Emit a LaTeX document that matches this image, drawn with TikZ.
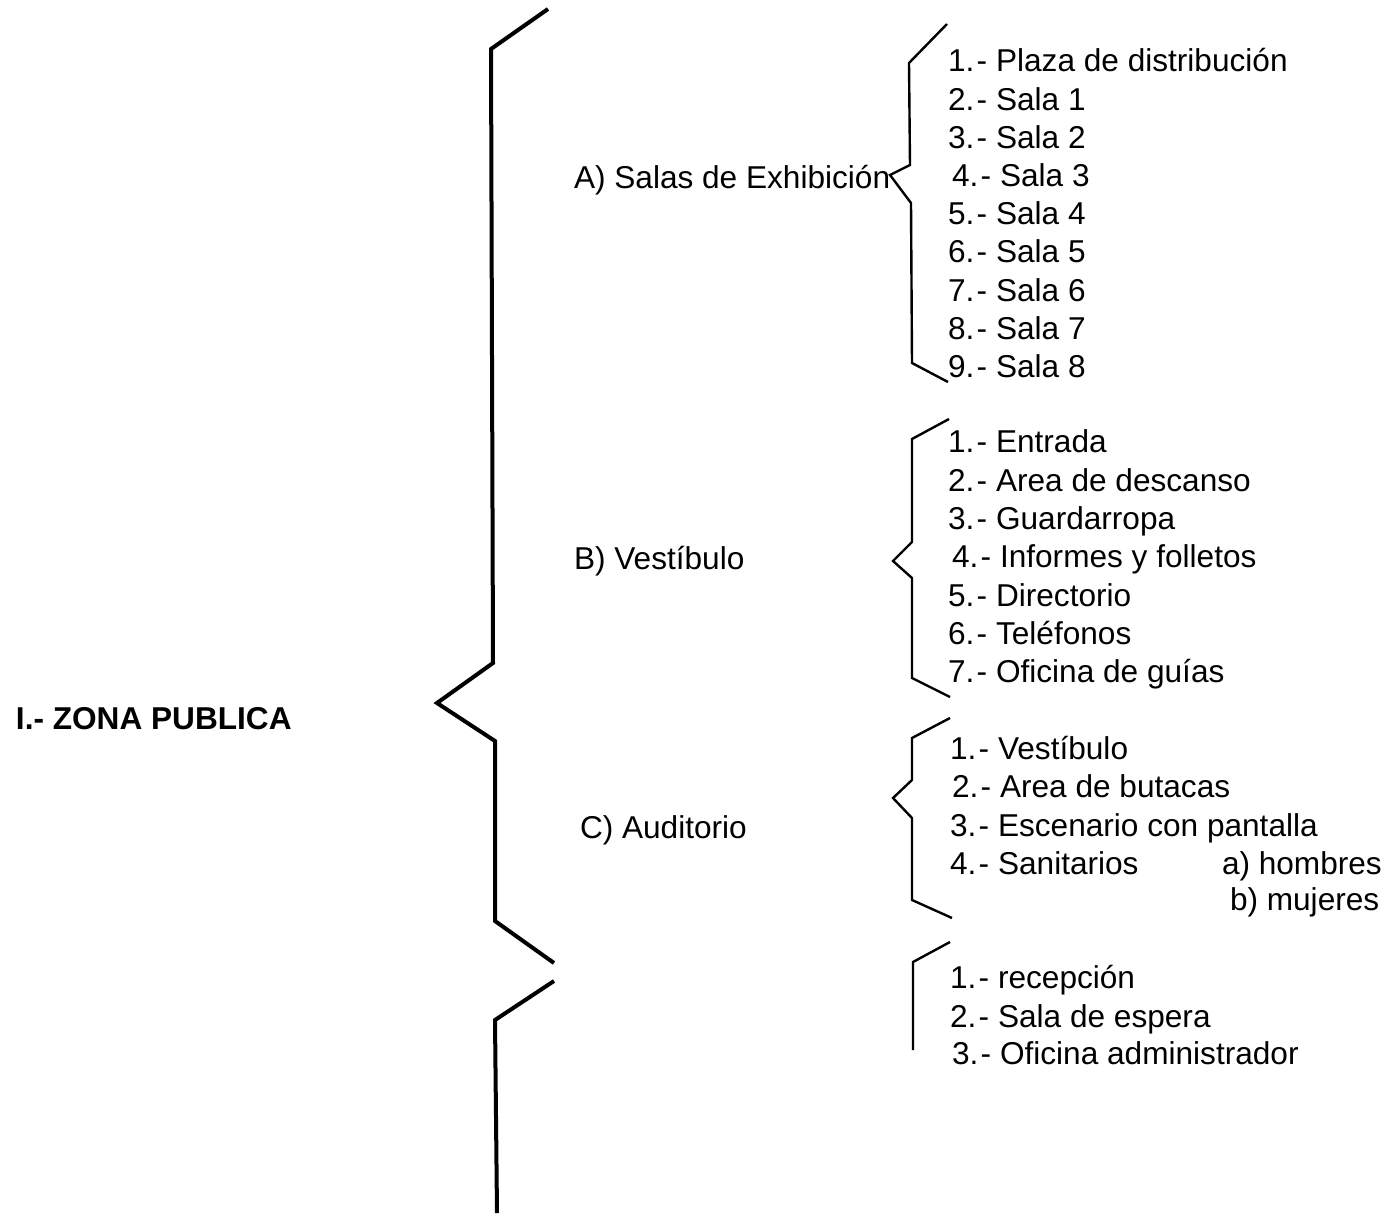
\documentclass[tikz,border=0pt]{standalone}
\usepackage{fontspec}
\setmainfont{Liberation Sans}
\newcommand{\dsh}{\kern1.2pt-}
\begin{document}
\begin{tikzpicture}[x=0.5pt,y=-0.5pt,
  lbl/.style={anchor=west,inner sep=0pt,outer sep=0pt,text height=11.3pt,text depth=0pt,font=\fontsize{15.8pt}{19pt}\selectfont},
  bigbrace/.style={line width=2pt,line join=miter,line cap=butt},
  smallbrace/.style={line width=1.2pt,line join=miter,line cap=butt}]
\useasboundingbox (0,0) rectangle (1399,1216);
% main brace
\draw[bigbrace] (548,9) -- (491,49) -- (493,663) -- (437,703) -- (495,741) -- (495,921) -- (554,963);
\draw[bigbrace] (554,981) -- (495,1020) -- (497,1213);
% brace A
\draw[smallbrace] (947,24) -- (909,63) -- (910,165) -- (890,175) -- (911,203) -- (912,363) -- (948,382);
% brace B
\draw[smallbrace] (949,419) -- (912,439) -- (912,542) -- (893,561) -- (912,578) -- (912,678) -- (950,697);
% brace C
\draw[smallbrace] (950,718) -- (912,738) -- (912,780) -- (893,798) -- (912,818) -- (912,900) -- (952,918);
% brace D
\draw[smallbrace] (950,942) -- (913,962) -- (913,1050);

\node[lbl,font=\fontsize{15.8pt}{19pt}\selectfont\bfseries] (zona) at (16,718) {I.- ZONA PUBLICA};
\node[lbl] (a) at (574,177) {A) Salas de Exhibición};
\node[lbl] (b) at (574,558) {B) Vestíbulo};
\node[lbl] (c) at (580,827) {C) Auditorio};

\node[lbl] (a1) at (948,60) {1.\dsh{} Plaza de distribución};
\node[lbl] (a2) at (948,99) {2.\dsh{} Sala 1};
\node[lbl] (a3) at (948,137) {3.\dsh{} Sala 2};
\node[lbl] (a4) at (952,175) {4.\dsh{} Sala 3};
\node[lbl] (a5) at (948,213) {5.\dsh{} Sala 4};
\node[lbl] (a6) at (948,251) {6.\dsh{} Sala 5};
\node[lbl] (a7) at (948,290) {7.\dsh{} Sala 6};
\node[lbl] (a8) at (948,328) {8.\dsh{} Sala 7};
\node[lbl] (a9) at (948,366) {9.\dsh{} Sala 8};

\node[lbl] (b1) at (948,441) {1.\dsh{} Entrada};
\node[lbl] (b2) at (948,480) {2.\dsh{} Area de descanso};
\node[lbl] (b3) at (948,518) {3.\dsh{} Guardarropa};
\node[lbl] (b4) at (952,556) {4.\dsh{} Informes y folletos};
\node[lbl] (b5) at (948,595) {5.\dsh{} Directorio};
\node[lbl] (b6) at (948,633) {6.\dsh{} Teléfonos};
\node[lbl] (b7) at (948,671) {7.\dsh{} Oficina de guías};

\node[lbl] (c1) at (950,748) {1.\dsh{} Vestíbulo};
\node[lbl] (c2) at (952,786) {2.\dsh{} Area de butacas};
\node[lbl] (c3) at (950,825) {3.\dsh{} Escenario con pantalla};
\node[lbl] (c4) at (950,863) {4.\dsh{} Sanitarios};
\node[lbl] (c4a) at (1222,863) {a) hombres};
\node[lbl] (c4b) at (1230,899) {b) mujeres};

\node[lbl] (d1) at (950,977) {1.\dsh{} recepción};
\node[lbl] (d2) at (950,1016) {2.\dsh{} Sala de espera};
\node[lbl] (d3) at (952,1053) {3.\dsh{} Oficina administrador};
\end{tikzpicture}
\end{document}
